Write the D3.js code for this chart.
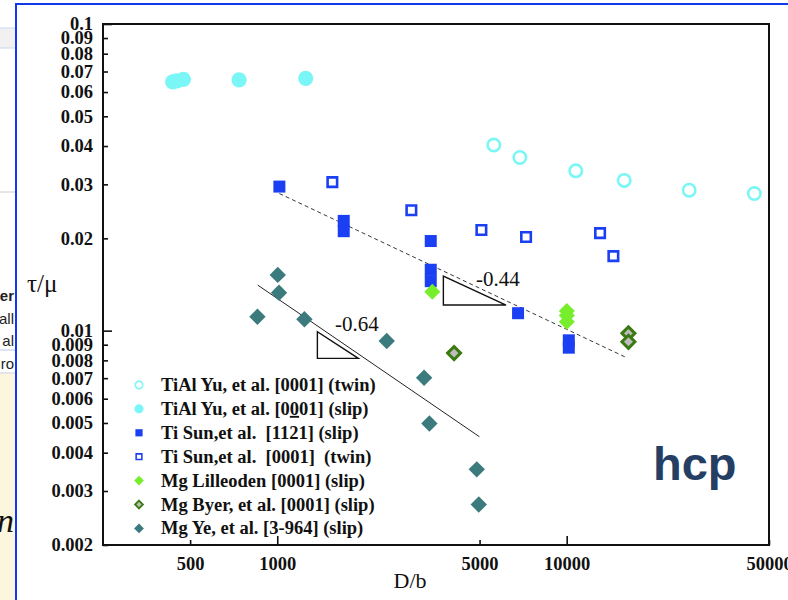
<!DOCTYPE html>
<html>
<head>
<meta charset="UTF-8">
<script src="https://d3js.org/d3.v7.min.js"></script>
<style>
  body { margin: 0; background: #fff; }
  .tick text { font-family: 'Liberation Serif', serif; font-weight: bold; font-size: 18.5px; fill: #111; }
  .legend text { font-family: 'Liberation Serif', serif; font-weight: bold; font-size: 18.5px; fill: #111; white-space: pre; }
</style>
</head>
<body>
<svg id="chart" width="788" height="600"></svg>
<script>
  // --- data (D/b, tau/mu) ---
  const tialTwinD = [5600, 6890, 10750, 15800, 26500, 44500];
  const tialTwinTau = [0.0403, 0.0367, 0.0332, 0.0309, 0.0287, 0.0280];
  const tialSlipD = [435, 450, 474, 738, 1254];
  const tialSlipTau = [0.0648, 0.0652, 0.0660, 0.0657, 0.0665];
  const tiSlipD = [1017, 1697, 1697, 3391, 3391, 3391, 6792, 10170, 10170];
  const tiSlipTau = [0.0295, 0.0228, 0.0211, 0.0196, 0.0158, 0.0145, 0.0114, 0.0093, 0.0088];
  const tiTwinD = [1550, 2906, 5073, 7238, 13040, 14500];
  const tiTwinTau = [0.0305, 0.0247, 0.0213, 0.0202, 0.0208, 0.0175];
  const mgLilD = [3434, 10010, 10010, 10010];
  const mgLilTau = [0.0134, 0.0116, 0.0112, 0.0107];
  const mgByerD = [4082, 16340, 16340];
  const mgByerTau = [0.00845, 0.0098, 0.0092];
  const mgYeD = [1004, 1014, 854, 1241, 2389, 3216, 3354, 4890, 4969];
  const mgYeTau = [0.0152, 0.0133, 0.0111, 0.0109, 0.00925, 0.00702, 0.00498, 0.00353, 0.00271];

  // fitted power-law lines
  const fitTiD = [1017, 16040];
  const fitTiTau = [0.0280, 0.00818];
  const fitMgD = [856, 4993];
  const fitMgTau = [0.01408, 0.00451];

  // slope triangles: [D left, D right], [tau top, tau bottom], label anchor
  const triD = [[3749, 6173], [1376, 1906]];
  const triTau = [[0.01507, 0.01212], [0.00992, 0.00812]];
  const triLabels = ['-0.44', '-0.64'];
  const triLabelD = [4863, 1584];
  const triLabelTau = [0.01397, 0.00997];

  const xTicks = [500, 1000, 5000, 10000, 50000];
  const yTicks = [0.002, 0.003, 0.004, 0.005, 0.006, 0.007, 0.008, 0.009,
                  0.01, 0.02, 0.03, 0.04, 0.05, 0.06, 0.07, 0.08, 0.09, 0.1];

  const legendNames = [
    'TiAl Yu, et al. [0001] (twin)',
    'TiAl Yu, et al. [0001] (slip)',
    'Ti Sun,et al.  [1121] (slip)',
    'Ti Sun,et al.  [0001]  (twin)',
    'Mg Lilleoden [0001] (slip)',
    'Mg Byer, et al. [0001] (slip)',
    'Mg Ye, et al. [3-964] (slip)'
  ];

  const cyan = '#7af6f7', blue = '#1b3ff2', lime = '#77ee2c', dkgreen = '#3b7a12', teal = '#3c7b7d';

  const svg = d3.select('#chart');

  // ---- backdrop: pieces of the window behind the slide ----
  const bg = svg.append('g');
  bg.append('rect').attr('x', 0).attr('y', 28).attr('width', 16).attr('height', 20).attr('fill', '#f1f1f1');
  bg.append('line').attr('x1', 0).attr('x2', 16).attr('y1', 28).attr('y2', 28).attr('stroke', '#c9d8f0');
  bg.append('line').attr('x1', 0).attr('x2', 16).attr('y1', 48).attr('y2', 48).attr('stroke', '#c9d8f0');
  bg.append('line').attr('x1', 0).attr('x2', 16).attr('y1', 192).attr('y2', 192).attr('stroke', '#cccccc');
  bg.append('line').attr('x1', 0).attr('x2', 16).attr('y1', 350).attr('y2', 350).attr('stroke', '#b8c8ee');
  bg.append('line').attr('x1', 0).attr('x2', 16).attr('y1', 373).attr('y2', 373).attr('stroke', '#cccccc');
  bg.append('rect').attr('x', 0).attr('y', 374).attr('width', 16).attr('height', 226).attr('fill', '#fbf6dd');
  const frag = [['er', 301, 'bold'], ['all', 324, 'normal'], ['al', 346, 'normal'], ['ro', 369, 'normal']];
  frag.forEach(f => {
    bg.append('text').attr('x', 14).attr('y', f[1]).attr('text-anchor', 'end')
      .attr('font-family', 'Liberation Sans, sans-serif').attr('font-size', 15).attr('font-weight', f[2])
      .attr('fill', '#222').text(f[0]);
  });
  bg.append('text').attr('x', 14).attr('y', 532).attr('text-anchor', 'end')
    .attr('font-family', 'Liberation Serif, serif').attr('font-style', 'italic').attr('font-size', 34)
    .attr('fill', '#111').text('n');

  // slide panel with blue border
  svg.append('rect').attr('x', 16).attr('y', 4).attr('width', 772).attr('height', 596).attr('fill', '#fff');
  svg.append('line').attr('x1', 16).attr('x2', 16).attr('y1', 3).attr('y2', 600).attr('stroke', '#1238ee').attr('stroke-width', 2);
  svg.append('line').attr('x1', 15).attr('x2', 788).attr('y1', 4).attr('y2', 4).attr('stroke', '#1238ee').attr('stroke-width', 2);

  // ---- scales ----
  const plot = {left: 103, right: 769, top: 24, bottom: 545};
  const x = d3.scaleLog().domain([250, 50000]).range([plot.left, plot.right]);
  const y = d3.scaleLog().domain([0.002, 0.1]).range([plot.bottom, plot.top]);

  // ---- axes (ticks point inward) ----
  const yAxis = svg.append('g').attr('transform', `translate(${plot.left},0)`)
    .call(d3.axisLeft(y).tickValues(yTicks).tickSize(-5).tickPadding(10).tickFormat(d => String(d)));
  const xAxis = svg.append('g').attr('transform', `translate(0,${plot.bottom})`)
    .call(d3.axisBottom(x).tickValues(xTicks).tickSize(-5).tickPadding(12).tickFormat(d => String(d)));
  [yAxis, xAxis].forEach(a => {
    a.select('.domain').remove();
    a.selectAll('.tick line').attr('stroke', '#111').attr('stroke-width', 1.6);
  });
  const isDecade = v => Math.abs(Math.log10(v) - Math.round(Math.log10(v))) < 1e-6;
  yAxis.selectAll('.tick line').filter(d => isDecade(d)).attr('x2', 9);
  xAxis.selectAll('.tick line').filter(d => isDecade(d)).attr('y2', -9);

  svg.append('rect')
    .attr('x', plot.left).attr('y', plot.top)
    .attr('width', plot.right - plot.left).attr('height', plot.bottom - plot.top)
    .attr('fill', 'none').attr('stroke', '#111').attr('stroke-width', 2);

  svg.append('text').attr('x', 27).attr('y', 292)
    .attr('font-family', 'Liberation Serif, serif').attr('font-size', 25).attr('fill', '#111').text('τ/μ');
  svg.append('text').attr('x', 410).attr('y', 588).attr('text-anchor', 'middle')
    .attr('font-family', 'Liberation Serif, serif').attr('font-size', 22).attr('fill', '#111').text('D/b');

  // ---- fit lines and slope triangles ----
  const line = d3.line().x(d => x(d[0])).y(d => y(d[1]));
  svg.append('path').attr('d', line(d3.zip(fitTiD, fitTiTau)))
    .attr('fill', 'none').attr('stroke', '#222').attr('stroke-width', 0.9).attr('stroke-dasharray', '4,3');
  svg.append('path').attr('d', line(d3.zip(fitMgD, fitMgTau)))
    .attr('fill', 'none').attr('stroke', '#222').attr('stroke-width', 1);

  triD.forEach((dd, i) => {
    const tt = triTau[i];
    svg.append('path')
      .attr('d', line([[dd[0], tt[0]], [dd[0], tt[1]], [dd[1], tt[1]]]) + 'Z')
      .attr('fill', 'none').attr('stroke', '#111').attr('stroke-width', 1.4);
    svg.append('text').attr('x', x(triLabelD[i])).attr('y', y(triLabelTau[i]))
      .attr('font-family', 'Liberation Serif, serif').attr('font-size', 21).attr('fill', '#111')
      .text(triLabels[i]);
  });

  // ---- markers ----
  const diamondPath = s => `M0,${-s}L${s},0L0,${s}L${-s},0Z`;
  function drawSeries(g, xs, ys, kind, scaleF) {
    const pts = d3.zip(xs, ys);
    const sel = g.selectAll(null).data(pts).join('path')
      .attr('transform', d => `translate(${x(d[0])},${y(d[1])})`);
    styleMarker(sel, kind, scaleF);
  }
  function styleMarker(sel, kind, f) {
    if (kind === 'openCircle') {
      sel.attr('d', d3.symbol(d3.symbolCircle, Math.PI * (6.2 * f) ** 2)())
        .attr('fill', 'none').attr('stroke', cyan).attr('stroke-width', 2.6 * f);
    } else if (kind === 'circle') {
      sel.attr('d', d3.symbol(d3.symbolCircle, Math.PI * (7.6 * f) ** 2)()).attr('fill', cyan);
    } else if (kind === 'square') {
      sel.attr('d', d3.symbol(d3.symbolSquare, (12 * f) ** 2)()).attr('fill', blue);
    } else if (kind === 'openSquare') {
      sel.attr('d', d3.symbol(d3.symbolSquare, (9.5 * f) ** 2)())
        .attr('fill', '#fff').attr('stroke', blue).attr('stroke-width', 2.6 * f);
    } else if (kind === 'lime') {
      sel.attr('d', diamondPath(8 * f)).attr('fill', lime);
    } else if (kind === 'byer') {
      sel.attr('d', diamondPath(6.5 * f)).attr('fill', '#bdbdbd').attr('stroke', dkgreen).attr('stroke-width', 3 * f);
    } else if (kind === 'teal') {
      sel.attr('d', diamondPath(8.2 * f)).attr('fill', teal);
    }
  }

  const marks = svg.append('g');
  drawSeries(marks, tialTwinD, tialTwinTau, 'openCircle', 1);
  drawSeries(marks, tialSlipD, tialSlipTau, 'circle', 1);
  drawSeries(marks, mgYeD, mgYeTau, 'teal', 1);
  drawSeries(marks, tiTwinD, tiTwinTau, 'openSquare', 1);
  drawSeries(marks, tiSlipD, tiSlipTau, 'square', 1);
  drawSeries(marks, mgByerD, mgByerTau, 'byer', 1);
  drawSeries(marks, mgLilD, mgLilTau, 'lime', 1);

  // ---- legend ----
  const legendKinds = ['openCircle', 'circle', 'square', 'openSquare', 'lime', 'byer', 'teal'];
  const legend = svg.append('g').attr('class', 'legend');
  legendNames.forEach((name, i) => {
    const cy = 385 + i * 23.9;
    const m = legend.append('path').attr('transform', `translate(139,${cy})`);
    styleMarker(m, legendKinds[i], 0.6);
    const t = legend.append('text').attr('x', 161).attr('y', cy + 6);
    if (i === 1) {
      t.append('tspan').text('TiAl Yu, et al. [0');
      t.append('tspan').attr('text-decoration', 'underline').text('0');
      t.append('tspan').text('01] (slip)');
    } else {
      t.text(name);
    }
  });

  svg.append('text').attr('x', 653).attr('y', 480)
    .attr('font-family', 'Liberation Sans, Arial, sans-serif').attr('font-weight', 'bold')
    .attr('font-size', 47).attr('fill', '#243f63').text('hcp');
</script>
</body>
</html>
